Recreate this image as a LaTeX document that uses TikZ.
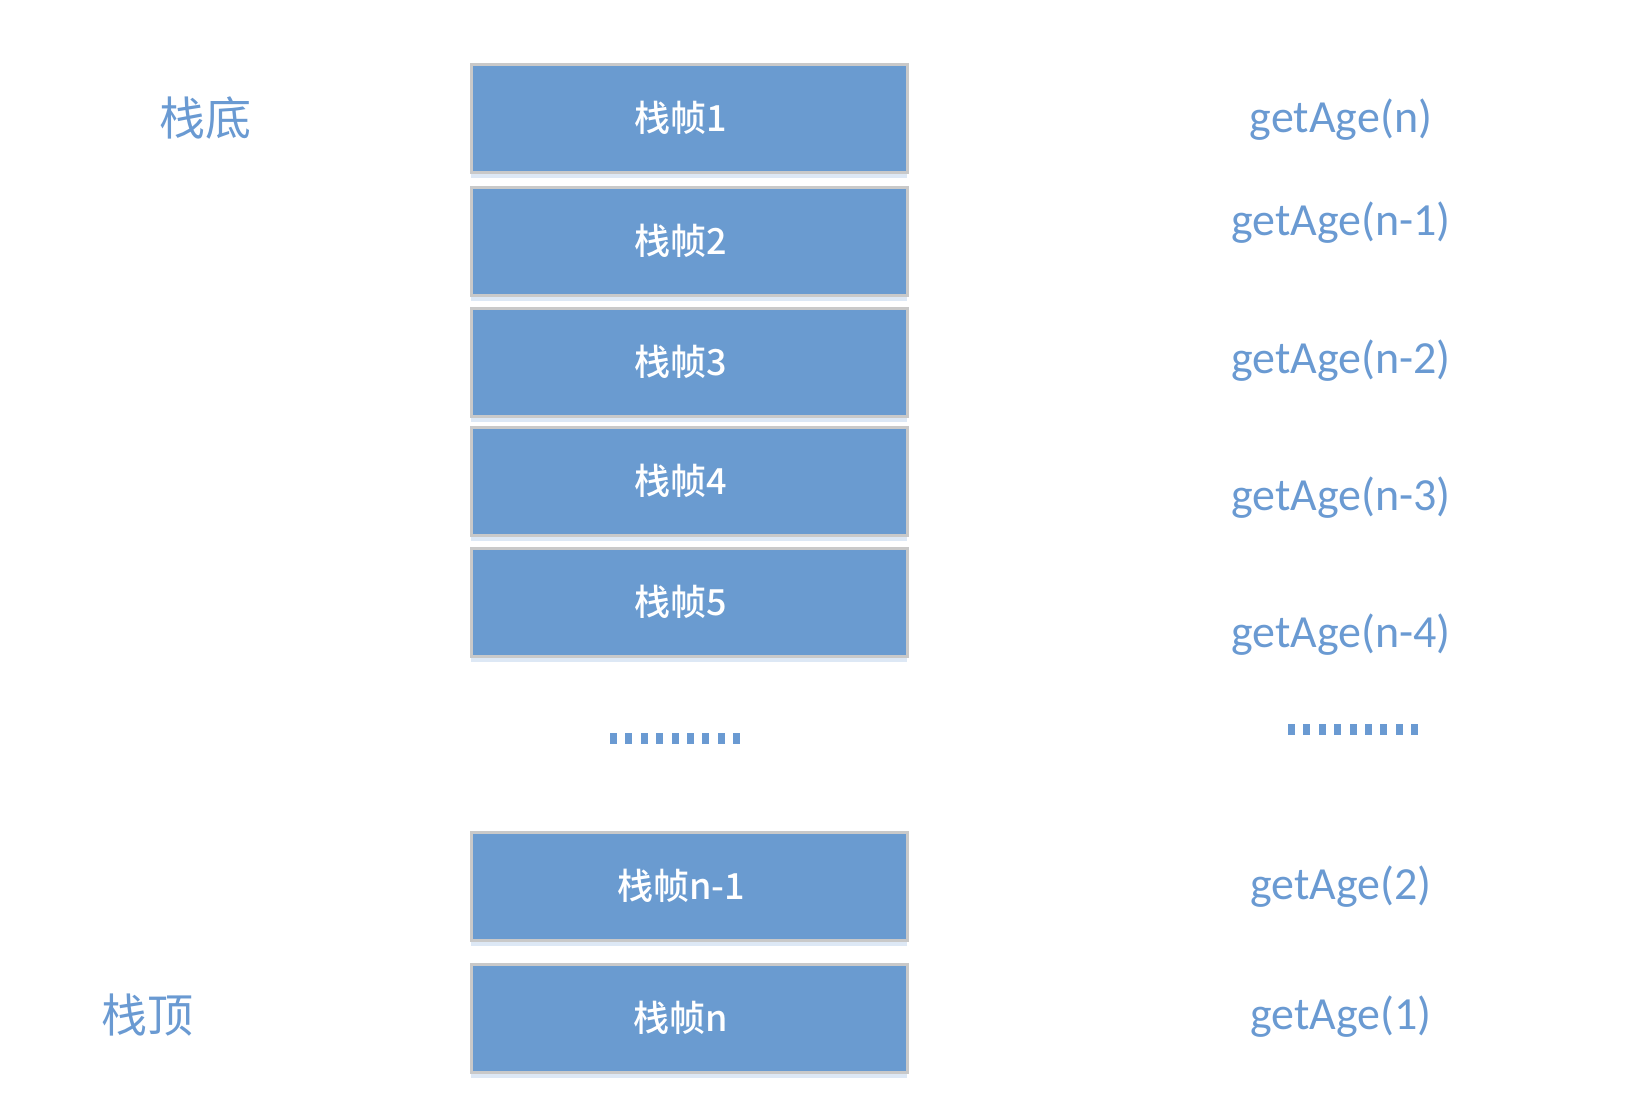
\documentclass[tikz,border=0pt]{standalone}
\usepackage{fontspec}
\setmainfont{Carlito}
\newfontfamily\cjk{Noto Sans CJK SC}
\newfontfamily\cjkbold{Noto Sans CJK SC Medium}
\usetikzlibrary{shadows}
\definecolor{boxblue}{HTML}{6A9BD0}
\definecolor{boxedge}{HTML}{C9C9C9}
\definecolor{labblue}{HTML}{6A9AD2}
\definecolor{shadowblue}{HTML}{C7D8EE}
\tikzset{
  frame/.style={draw=boxedge, line width=1.5pt, fill=boxblue,
    minimum width=218pt, minimum height=54pt, inner sep=0pt,
    text=white, font=\cjkbold\fontsize{18}{20}\selectfont,
    drop shadow={shadow xshift=0pt, shadow yshift=-3pt, fill=shadowblue, opacity=0.6}},
  sidelab/.style={text=labblue, font=\cjk\fontsize{23}{26}\selectfont},
  calllab/.style={text=labblue, font=\fontsize{23}{26}\selectfont},
  dotmark/.style={fill=labblue, draw=none}
}
\begin{document}
\begin{tikzpicture}[x=0.5pt, y=-0.5pt]
\useasboundingbox (0,0) rectangle (1628,1103);
% frames
\node[frame] (f1) at (689,118) {\hspace*{-8pt}栈帧1};
\node[frame] (f2) at (689,241) {\hspace*{-8pt}栈帧2};
\node[frame] (f3) at (689,362) {\hspace*{-8pt}栈帧3};
\node[frame] (f4) at (689,481) {\hspace*{-8pt}栈帧4};
\node[frame] (f5) at (689,602) {\hspace*{-8pt}栈帧5};
\node[frame] (fn1) at (689,886) {\hspace*{-8pt}栈帧n-1};
\node[frame] (fn) at (689,1018) {\hspace*{-8pt}栈帧n};
% side labels
\node[sidelab] (bottom) at (205,118) {栈底};
\node[sidelab] (top) at (147,1015) {栈顶};
% call labels
\node[calllab] (c1) at (1341,120) {getAge(n)};
\node[calllab] (c2) at (1341,223) {getAge(n-1)};
\node[calllab] (c3) at (1341,361) {getAge(n-2)};
\node[calllab] (c4) at (1341,498) {getAge(n-3)};
\node[calllab] (c5) at (1341,635) {getAge(n-4)};
\node[calllab] (c6) at (1341,887) {getAge(2)};
\node[calllab] (c7) at (1341,1017) {getAge(1)};
% dots
\foreach \i in {0,...,8} {
  \fill[dotmark] ({610+\i*15.4},733) rectangle ++(7,11);
  \fill[dotmark] ({1288+\i*15.4},724) rectangle ++(7,11);
}
\end{tikzpicture}
\end{document}
